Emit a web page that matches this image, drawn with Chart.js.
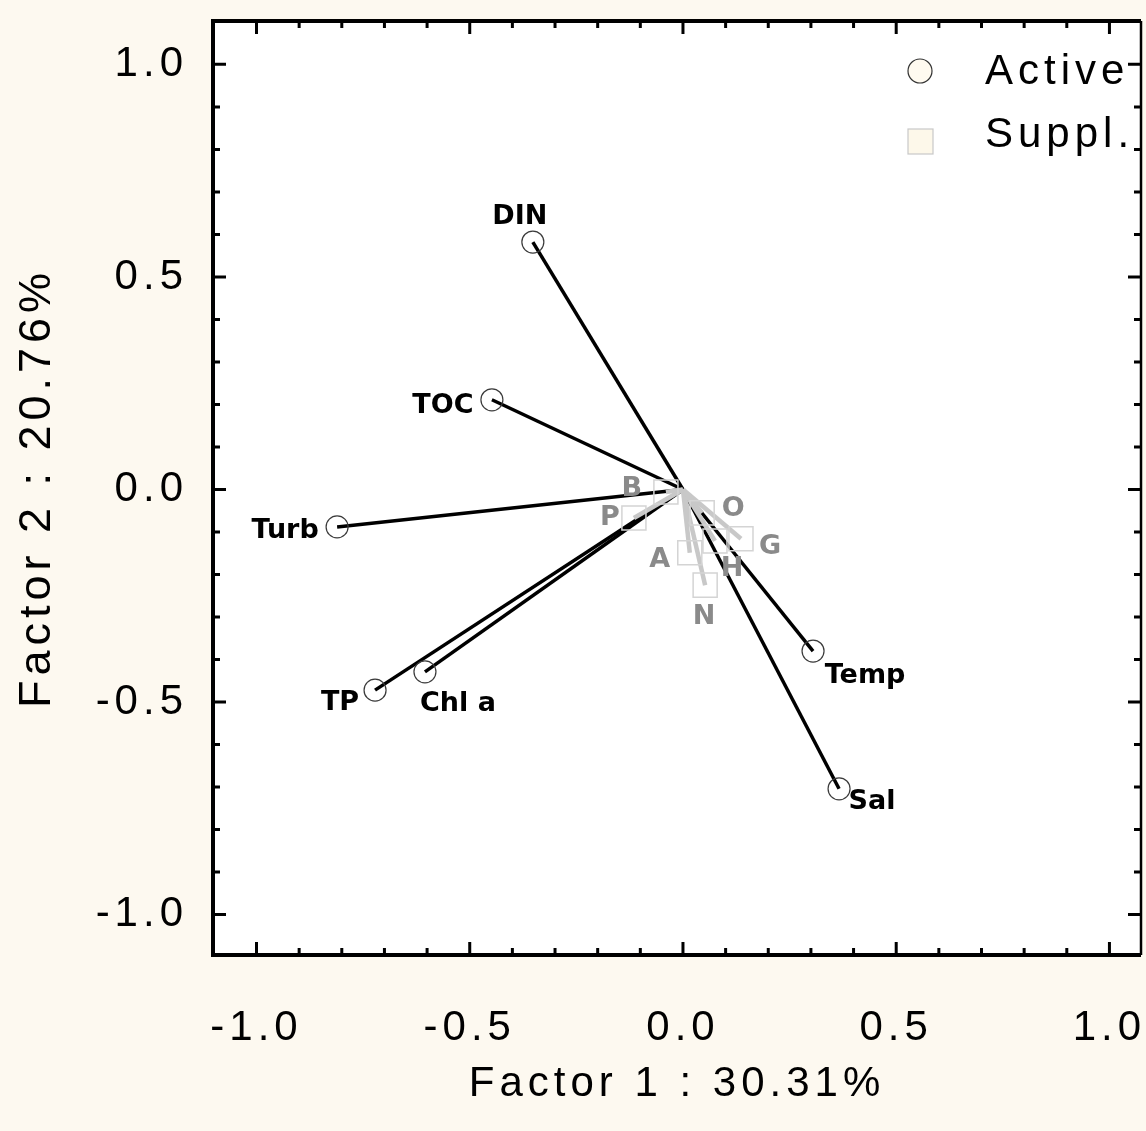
<!DOCTYPE html>
<html>
<head>
<meta charset="utf-8">
<script src="https://cdn.jsdelivr.net/npm/chart.js@4.4.1/dist/chart.umd.min.js"></script>
<style>
  body { margin: 0; background: #fdf9f0; }
  #wrap { width: 1146px; height: 1131px; }
</style>
</head>
<body>
<div id="wrap"><canvas id="pcaChart" width="1146" height="1131"></canvas></div>
<script>
// active variables (factor coordinates)
const activeNames = ['DIN', 'TOC', 'Turb', 'TP', 'Chl a', 'Temp', 'Sal'];
const activeF1 = [-0.352, -0.448, -0.811, -0.722, -0.605, 0.305, 0.366];
const activeF2 = [0.582, 0.211, -0.088, -0.472, -0.429, -0.380, -0.704];

// supplementary variables
const supplNames = ['B', 'P', 'O', 'G', 'A', 'H', 'N'];
const supplF1 = [-0.040, -0.115, 0.045, 0.136, 0.016, 0.075, 0.052];
const supplF2 = [-0.006, -0.067, -0.055, -0.116, -0.149, -0.121, -0.225];

const xTicks = [-1.0, -0.5, 0.0, 0.5, 1.0];
const yTicks = [-1.0, -0.5, 0.0, 0.5, 1.0];
const legendLabels = ['Active', 'Suppl.'];
const xTitle = 'Factor 1 : 30.31%';
const yTitle = 'Factor 2 : 20.76%';

// where each label sits relative to its point, in pixels
const activeLabelOffsets = [[-13, -25], [-49, 6], [-52, 4], [-35, 13], [33, 32], [52, 25], [33, 13]];
const supplLabelOffsets = [[-34, -3], [-24, 0], [31, -4], [29, 8], [-30, 7], [17, 28], [-1, 32]];

const FONT = 'Liberation Sans';

function vectorSets(xs, ys, color, width, order) {
    return xs.map((x, i) => ({
        data: [{ x: 0, y: 0 }, { x: x, y: ys[i] }],
        showLine: true,
        borderColor: color,
        borderWidth: width,
        pointRadius: 0,
        order: order
    }));
}

// cream page, white plot area, spaced text for the axes
const background = {
    id: 'background',
    beforeDraw(chart) {
        const { ctx, chartArea: a } = chart;
        ctx.save();
        ctx.fillStyle = '#fdf9f0';
        ctx.fillRect(0, 0, chart.width, chart.height);
        ctx.fillStyle = '#ffffff';
        ctx.fillRect(a.left, a.top, a.right - a.left, a.bottom - a.top);
        ctx.restore();
        ctx.letterSpacing = '5px';
    },
    beforeDatasetsDraw(chart) {
        chart.ctx.letterSpacing = '0px';
    }
};

// box with inward ticks on all four sides
const frame = {
    id: 'frame',
    afterDatasetsDraw(chart) {
        const { ctx, chartArea: a, scales: { x, y } } = chart;
        ctx.save();
        ctx.strokeStyle = '#000';
        ctx.lineWidth = 3;
        for (let k = -10; k <= 10; k++) {
            const v = k / 10;
            const len = k % 5 === 0 ? 13 : 7;
            const px = x.getPixelForValue(v);
            const py = y.getPixelForValue(v);
            ctx.beginPath();
            ctx.moveTo(px, a.bottom); ctx.lineTo(px, a.bottom - len);
            ctx.moveTo(px, a.top); ctx.lineTo(px, a.top + len);
            ctx.moveTo(a.left, py); ctx.lineTo(a.left + len, py);
            ctx.moveTo(a.right, py); ctx.lineTo(a.right - len, py);
            ctx.stroke();
        }
        ctx.lineWidth = 4;
        ctx.beginPath();
        ctx.moveTo(a.right, a.top);
        ctx.lineTo(a.left, a.top);
        ctx.lineTo(a.left, a.bottom);
        ctx.lineTo(a.right, a.bottom);
        ctx.stroke();
        ctx.lineWidth = 2.5;
        ctx.beginPath();
        ctx.moveTo(a.right, a.top);
        ctx.lineTo(a.right, a.bottom);
        ctx.stroke();
        ctx.restore();
    }
};

const pointLabels = {
    id: 'pointLabels',
    afterDatasetsDraw(chart) {
        const { ctx, scales: { x, y } } = chart;
        ctx.save();
        ctx.letterSpacing = '0px';
        ctx.font = 'bold 27px "DejaVu Sans"';
        ctx.textAlign = 'center';
        ctx.textBaseline = 'middle';
        ctx.fillStyle = '#000';
        activeNames.forEach((name, i) => {
            ctx.fillText(name,
                x.getPixelForValue(activeF1[i]) + activeLabelOffsets[i][0],
                y.getPixelForValue(activeF2[i]) + activeLabelOffsets[i][1]);
        });
        ctx.fillStyle = '#8a8a8a';
        supplNames.forEach((name, i) => {
            ctx.fillText(name,
                x.getPixelForValue(supplF1[i]) + supplLabelOffsets[i][0],
                y.getPixelForValue(supplF2[i]) + supplLabelOffsets[i][1]);
        });
        ctx.restore();
    }
};

const cornerLegend = {
    id: 'cornerLegend',
    afterDraw(chart) {
        const { ctx, chartArea: a } = chart;
        const cx = a.right - 221;
        ctx.save();
        ctx.beginPath();
        ctx.arc(cx, a.top + 50, 12, 0, Math.PI * 2);
        ctx.fillStyle = '#fffaf0';
        ctx.fill();
        ctx.strokeStyle = '#333';
        ctx.lineWidth = 1.2;
        ctx.stroke();
        ctx.fillStyle = '#fdf8ea';
        ctx.fillRect(cx - 12, a.top + 108, 25, 25);
        ctx.strokeStyle = '#c8c8c8';
        ctx.strokeRect(cx - 12, a.top + 108, 25, 25);
        ctx.letterSpacing = '5px';
        ctx.font = '42px "' + FONT + '"';
        ctx.fillStyle = '#000';
        ctx.textAlign = 'left';
        ctx.textBaseline = 'middle';
        ctx.fillText(legendLabels[0], cx + 65, a.top + 51);
        ctx.fillText(legendLabels[1], cx + 65, a.top + 114);
        ctx.restore();
    }
};

function renderChart() {
    const ctx = document.getElementById('pcaChart').getContext('2d');

    const datasets = [
        {
            data: activeF1.map((x, i) => ({ x: x, y: activeF2[i] })),
            pointStyle: 'circle',
            pointRadius: 11,
            borderColor: '#3a3a3a',
            borderWidth: 1.2,
            backgroundColor: 'rgba(255,255,255,0)',
            order: 0
        },
        {
            data: supplF1.map((x, i) => ({ x: x, y: supplF2[i] })),
            pointStyle: 'rect',
            pointRadius: 17,
            borderColor: '#d4d4d4',
            borderWidth: 1.5,
            backgroundColor: 'rgba(255,255,255,0)',
            order: 1
        }
    ]
        .concat(vectorSets(supplF1, supplF2, '#c8c8c8', 4.5, 2))
        .concat(vectorSets(activeF1, activeF2, '#000000', 3.5, 3));

    new Chart(ctx, {
        type: 'scatter',
        data: { datasets: datasets },
        options: {
            responsive: false,
            animation: false,
            events: [],
            layout: { autoPadding: false, padding: { left: 0, top: 21, right: 5, bottom: 0 } },
            plugins: {
                legend: { display: false },
                tooltip: { enabled: false }
            },
            scales: {
                x: {
                    type: 'linear',
                    min: -1.102,
                    max: 1.074,
                    grid: { display: false, drawTicks: false },
                    border: { display: false },
                    afterBuildTicks: s => { s.ticks = xTicks.map(v => ({ value: v })); },
                    afterFit: s => { s.height = 176; s.paddingLeft = 0; s.paddingRight = 0; },
                    ticks: {
                        padding: 48,
                        color: '#000',
                        maxRotation: 0,
                        autoSkip: false,
                        font: { family: FONT, size: 42 },
                        callback: v => Number(v).toFixed(1)
                    },
                    title: {
                        display: true,
                        text: xTitle,
                        color: '#000',
                        font: { family: FONT, size: 42 },
                        padding: { top: 0, bottom: 21 }
                    }
                },
                y: {
                    type: 'linear',
                    min: -1.095,
                    max: 1.102,
                    grid: { display: false, drawTicks: false },
                    border: { display: false },
                    afterBuildTicks: s => { s.ticks = yTicks.map(v => ({ value: v })); },
                    afterFit: s => { s.width = 213; s.paddingTop = 0; s.paddingBottom = 0; },
                    ticks: {
                        padding: 25,
                        color: '#000',
                        autoSkip: false,
                        font: { family: FONT, size: 42 },
                        callback: v => Number(v).toFixed(1)
                    },
                    title: {
                        display: true,
                        text: yTitle,
                        color: '#000',
                        font: { family: FONT, size: 45 },
                        padding: { top: 11, bottom: 0 }
                    }
                }
            }
        },
        plugins: [background, frame, pointLabels, cornerLegend]
    });
}

renderChart();
</script>
</body>
</html>
